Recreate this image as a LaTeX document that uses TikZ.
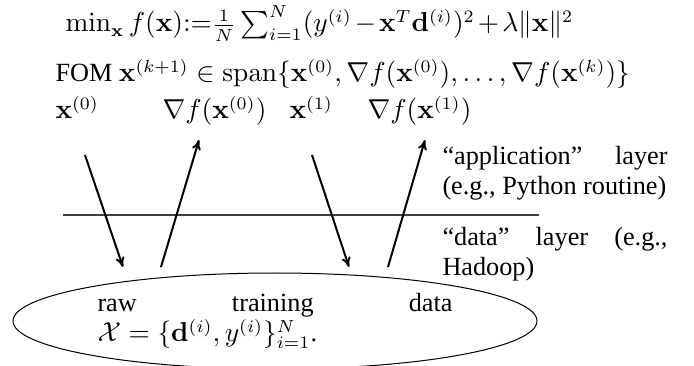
\documentclass[tikz,border=0pt]{standalone}
\usepackage{amsmath}
\usepackage[no-math]{fontspec}
\setmainfont{Liberation Serif}
\usepackage{tikz}
\usetikzlibrary{arrows.meta,positioning,shapes.geometric}

\begin{document}
\begin{tikzpicture}[
  x=0.4pt, y=-0.4pt,
  font=\fontsize{10.5}{12}\selectfont,
  lbl/.style={anchor=base west,inner sep=0pt},
  layer/.style={anchor=base west,inner sep=0pt,text width=90pt,align=justify},
  arrow/.style={-{To[length=4pt,width=3.6pt]},line width=0.8pt},
  divider/.style={line width=0.6pt,black!75}
]
  \useasboundingbox (0,0) rectangle (694,366);

  \node[lbl] (obj) at (65,32) {$\min_{\mathbf{x}} f(\mathbf{x}){:=}\frac{1}{N}\sum_{i=1}^N(y^{(i)}\mskip2mu{-}\mskip2mu\mathbf{x}^T\mathbf{d}^{(i)})^2\mskip2mu{+}\mskip2mu\lambda\|\mathbf{x}\|^2$};
  \node[lbl] (fom) at (55,82) {FOM $\mathbf{x}^{(k+1)}\in\operatorname{span}\{\mathbf{x}^{(0)},\nabla f(\mathbf{x}^{(0)}),\ldots,\nabla f(\mathbf{x}^{(k)})\}$};
  \node[lbl] (x0) at (55,119) {$\mathbf{x}^{(0)}$};
  \node[lbl] (g0) at (162,119) {$\nabla f(\mathbf{x}^{(0)})$};
  \node[lbl] (x1) at (289,119) {$\mathbf{x}^{(1)}$};
  \node[lbl] (g1) at (367,119) {$\nabla f(\mathbf{x}^{(1)})$};

  \node[layer] (app) at (442,165) {``application'' layer\linebreak (e.g., Python routine)};
  \node[layer] (dlay) at (442,245) {``data'' layer (e.g.,\linebreak Hadoop)};

  \coordinate (pool) at (275,321);
  \draw (pool) ellipse [x radius=262, y radius=48];
  \node[lbl,text width=142pt,align=justify] (raw) at (97,312) {raw training data\linebreak $\mathcal{X}=\{\mathbf{d}^{(i)},y^{(i)}\}_{i=1}^N$.};

  \coordinate (x0top) at (85,155);
  \coordinate (x0bot) at (123,267);
  \coordinate (g0bot) at (161,267);
  \coordinate (g0top) at (199,140);
  \coordinate (x1top) at (312,155);
  \coordinate (x1bot) at (349,267);
  \coordinate (g1bot) at (388,267);
  \coordinate (g1top) at (425,140);
  \coordinate (divl) at (63,215);
  \coordinate (divr) at (539,215);

  \draw[divider] (divl) -- (divr);
  \draw[arrow] (x0top) -- (x0bot);
  \draw[arrow] (g0bot) -- (g0top);
  \draw[arrow] (x1top) -- (x1bot);
  \draw[arrow] (g1bot) -- (g1top);
\end{tikzpicture}
\end{document}
